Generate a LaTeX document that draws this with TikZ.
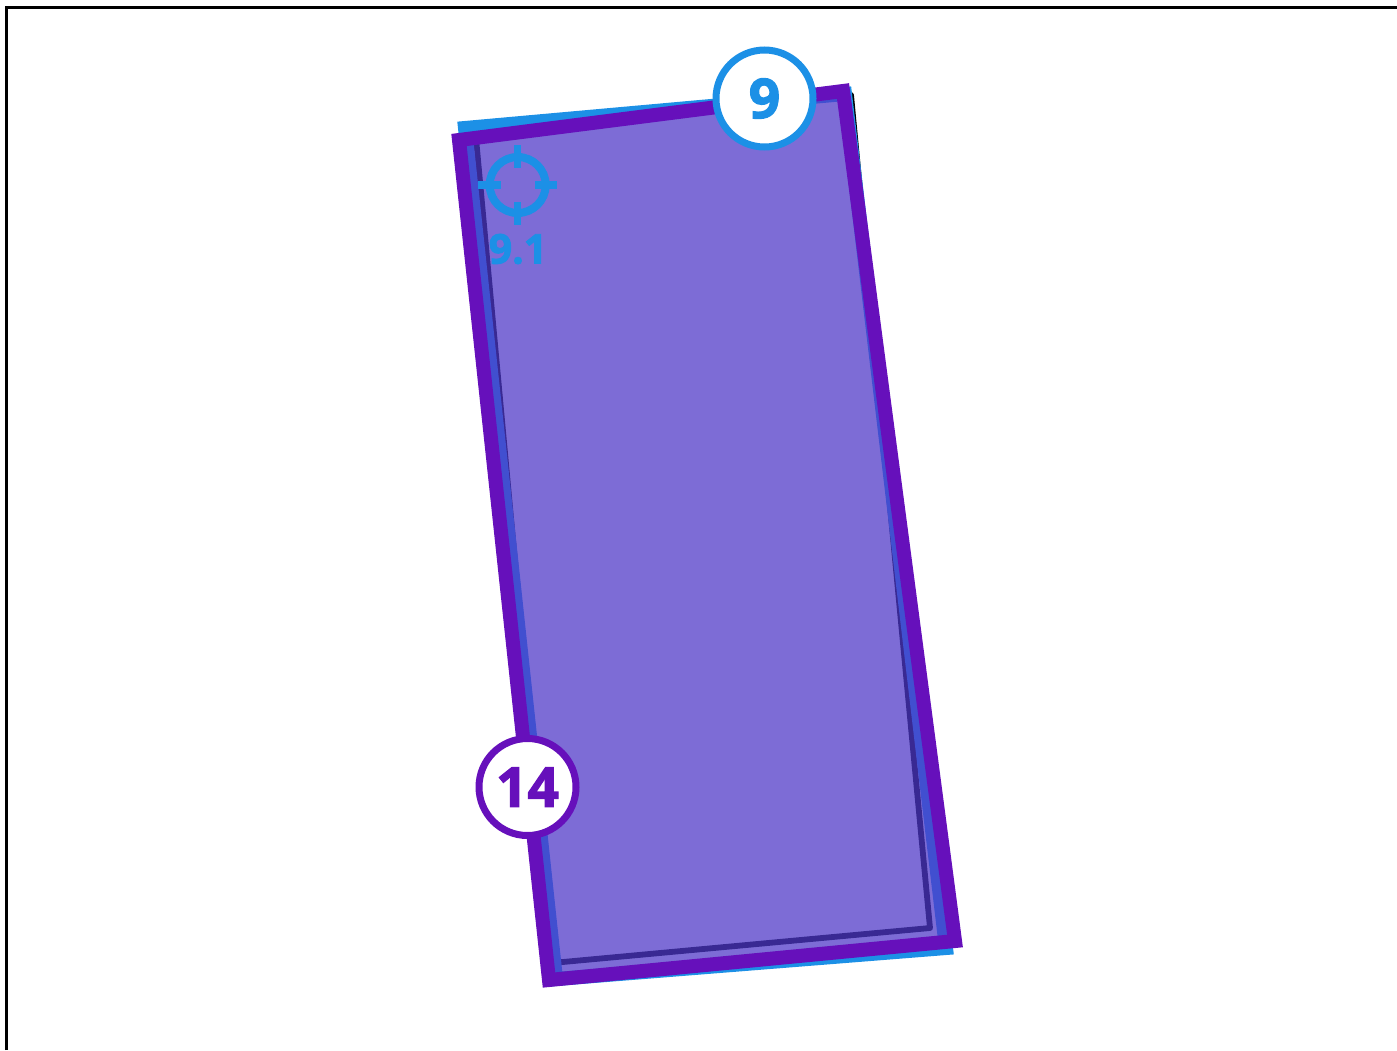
\documentclass[tikz,border=0pt]{standalone}
\usepackage{fontspec}
\setmainfont{Open Sans}[BoldFeatures={FakeBold=2.2}]
\usepackage{tikz}
\definecolor{zoneblue}{HTML}{1C90E6}
\definecolor{zonepurple}{HTML}{6610BB}
\tikzset{
  badge/.style={circle,draw,fill=white,line width=3.5pt,minimum size=48.5pt,inner sep=0pt,font=\bfseries\fontsize{27.5}{27.5}\selectfont},
  tick/.style={zoneblue,line width=3.7pt}
}

\begin{document}
\begin{tikzpicture}[x=0.5pt,y=-0.5pt]
  \useasboundingbox (0,0) rectangle (1397,1050);
  \draw[line width=1.6pt] (6.5,1050) -- (6.5,7.5) -- (1397,7.5);
  % rectangles
  \draw[black,line width=2.9pt,line join=round] (476,138) -- (851,95) -- (930,928) -- (552,963) -- cycle;
  \draw[draw=zoneblue,fill=zoneblue,fill opacity=0.47,line width=7pt] (465,128) -- (845,94) -- (946,948) -- (556,979) -- cycle;
  \draw[draw=zonepurple,fill=zonepurple,fill opacity=0.5,line width=7pt] (459,140) -- (843,91) -- (955,941) -- (549,980) -- cycle;
  % target
  \coordinate (T) at (517.7,185);
  \draw[zoneblue,line width=4pt] (T) circle (28);
  \draw[tick] (517.7,145) -- (517.7,168);
  \draw[tick] (517.7,202) -- (517.7,225);
  \draw[tick] (478,185) -- (501,185);
  \draw[tick] (535,185) -- (557,185);
  \node[zoneblue,font=\bfseries\fontsize{20.5}{20.5}\selectfont] (targetlabel) at (518,249) {9.1};
  % badges
  \node[badge,draw=zoneblue,text=zoneblue] (bluebadge) at (764.5,98.5) {9};
  \node[badge,draw=zonepurple,text=zonepurple] (purplebadge) at (527.5,787) {14};
\end{tikzpicture}
\end{document}
